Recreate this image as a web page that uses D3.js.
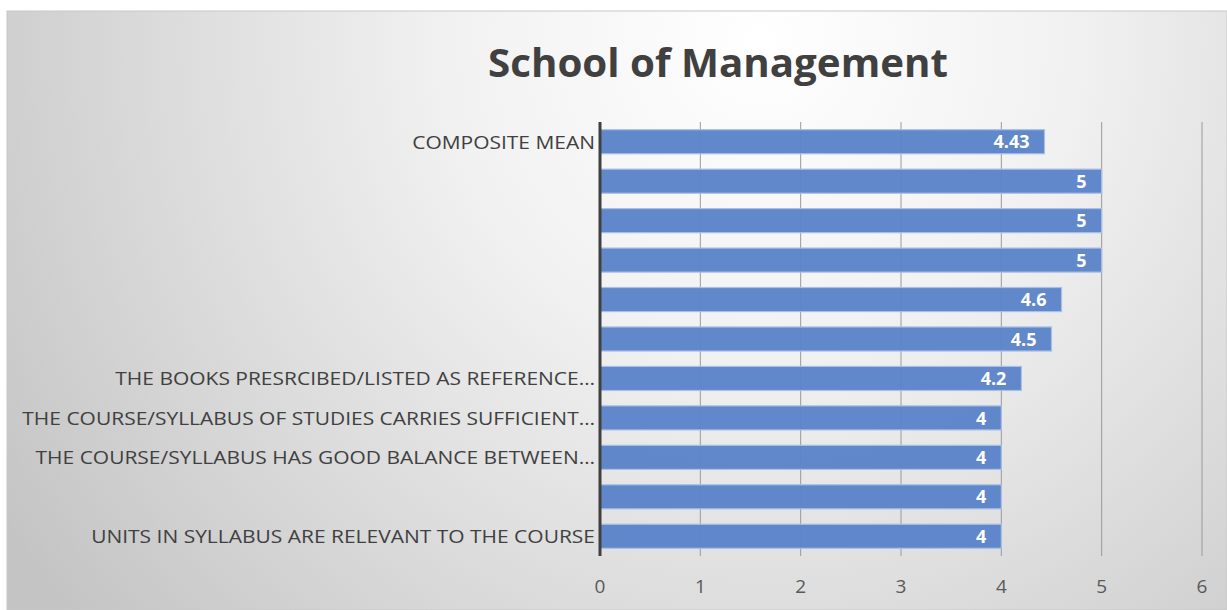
<!DOCTYPE html>
<html>
<head>
<meta charset="utf-8">
<script src="https://cdn.jsdelivr.net/npm/d3@7"></script>
<style>
  body { margin: 0; background: #fff; }
  svg { display: block; }
</style>
</head>
<body>
<div id="chart"></div>
<script>
// chart data, top bar first
var categories = [
    "COMPOSITE MEAN", "Q10", "Q9", "Q8", "Q7", "Q6",
    "THE BOOKS PRESRCIBED/LISTED AS REFERENCE…",
    "THE COURSE/SYLLABUS OF STUDIES CARRIES SUFFICIENT…",
    "THE COURSE/SYLLABUS HAS GOOD BALANCE BETWEEN…",
    "Q2",
    "UNITS IN SYLLABUS ARE RELEVANT TO THE COURSE"
];
// which category labels the original shows (the rest are skipped)
var shownLabels = [
    "COMPOSITE MEAN",
    "THE BOOKS PRESRCIBED/LISTED AS REFERENCE…",
    "THE COURSE/SYLLABUS OF STUDIES CARRIES SUFFICIENT…",
    "THE COURSE/SYLLABUS HAS GOOD BALANCE BETWEEN…",
    "UNITS IN SYLLABUS ARE RELEVANT TO THE COURSE"
];
var values = [4.43, 5, 5, 5, 4.6, 4.5, 4.2, 4, 4, 4, 4];
var xTicks = [0, 1, 2, 3, 4, 5, 6];
var title = "School of Management";

var svgWidth = 1227;
var svgHeight = 610;

// plot area
var margin = { top: 122, bottom: 54, left: 600, right: 25 };
var plotBottom = svgHeight - margin.bottom;

var svg = d3.select("#chart")
    .append("svg")
    .attr("width", svgWidth)
    .attr("height", svgHeight);

// background gradient like the office chart style
var defs = svg.append("defs");
var grad = defs.append("radialGradient")
    .attr("id", "bg")
    .attr("gradientUnits", "userSpaceOnUse")
    .attr("cx", 760).attr("cy", 40)
    .attr("r", 900);
grad.append("stop").attr("offset", "0%").attr("stop-color", "#ffffff");
grad.append("stop").attr("offset", "35%").attr("stop-color", "#f1f1f1");
grad.append("stop").attr("offset", "100%").attr("stop-color", "#c4c4c4");

svg.append("rect")
    .attr("x", 7).attr("y", 11)
    .attr("width", svgWidth - 7).attr("height", svgHeight - 11)
    .attr("fill", "url(#bg)")
    .attr("stroke", "#c8c8c8")
    .attr("stroke-width", 1);

var x = d3.scaleLinear()
    .domain([0, 6])
    .range([600, 1202]);

var y = d3.scaleBand()
    .domain(categories)
    .range([margin.top, plotBottom])
    .paddingInner(0.39)
    .paddingOuter(0.195);

// gridlines
svg.append("g")
    .selectAll("line")
    .data(xTicks.slice(1))
    .enter()
    .append("line")
    .attr("x1", d => x(d)).attr("x2", d => x(d))
    .attr("y1", margin.top).attr("y2", plotBottom)
    .attr("stroke", "#9a9a9a")
    .attr("stroke-width", 1);

// bars
svg.append("g")
    .selectAll("rect")
    .data(values)
    .enter()
    .append("rect")
    .attr("x", x(0))
    .attr("y", (d, i) => y(categories[i]))
    .attr("width", d => x(d) - x(0))
    .attr("height", y.bandwidth())
    .attr("fill", "#5a83c9")
    .attr("fill-opacity", 0.96)
    .attr("stroke", "#a9bfe6")
    .attr("stroke-width", 1.2);

// value labels inside the bar end
svg.append("g")
    .selectAll("text")
    .data(values)
    .enter()
    .append("text")
    .attr("x", d => x(d) - 15)
    .attr("y", (d, i) => y(categories[i]) + y.bandwidth() / 2)
    .attr("dy", "0.37em")
    .attr("text-anchor", "end")
    .attr("font-family", "'Open Sans', sans-serif")
    .attr("font-weight", "bold")
    .attr("font-size", "18px")
    .attr("fill", "#ffffff")
    .text(d => d);

// category axis line
svg.append("line")
    .attr("x1", x(0)).attr("x2", x(0))
    .attr("y1", margin.top).attr("y2", plotBottom)
    .attr("stroke", "#404040")
    .attr("stroke-width", 3);

// category labels, squeezed horizontally to mimic the narrow office font
var labelGroup = svg.append("g");
var labels = labelGroup.selectAll("text")
    .data(categories)
    .enter()
    .append("text")
    .attr("x", 0)
    .attr("y", d => y(d) + y.bandwidth() / 2)
    .attr("dy", "0.36em")
    .attr("text-anchor", "end")
    .attr("font-family", "'Open Sans', sans-serif")
    .attr("font-size", "19px")
    .attr("fill", "#404040")
    .text(d => shownLabels.indexOf(d) >= 0 ? d : "");

var longest = d3.max(labels.nodes(), n => n.getComputedTextLength());
var sx = 573 / longest;
labelGroup.attr("transform", `translate(595,0) scale(${sx},1)`);

// x tick labels
svg.append("g")
    .selectAll("text")
    .data(xTicks)
    .enter()
    .append("text")
    .attr("x", d => x(d))
    .attr("y", 593)
    .attr("text-anchor", "middle")
    .attr("font-family", "'Open Sans', sans-serif")
    .attr("font-size", "19px")
    .attr("fill", "#595959")
    .text(d => d);

// title
var titleText = svg.append("text")
    .attr("x", 718)
    .attr("y", 77)
    .attr("text-anchor", "middle")
    .attr("font-family", "'Open Sans', sans-serif")
    .attr("font-weight", "bold")
    .attr("font-size", "40px")
    .attr("fill", "#404040")
    .text(title);

var tw = titleText.node().getComputedTextLength();
titleText.attr("transform", `translate(718,0) scale(${460 / tw},1) translate(-718,0)`);
</script>
</body>
</html>
